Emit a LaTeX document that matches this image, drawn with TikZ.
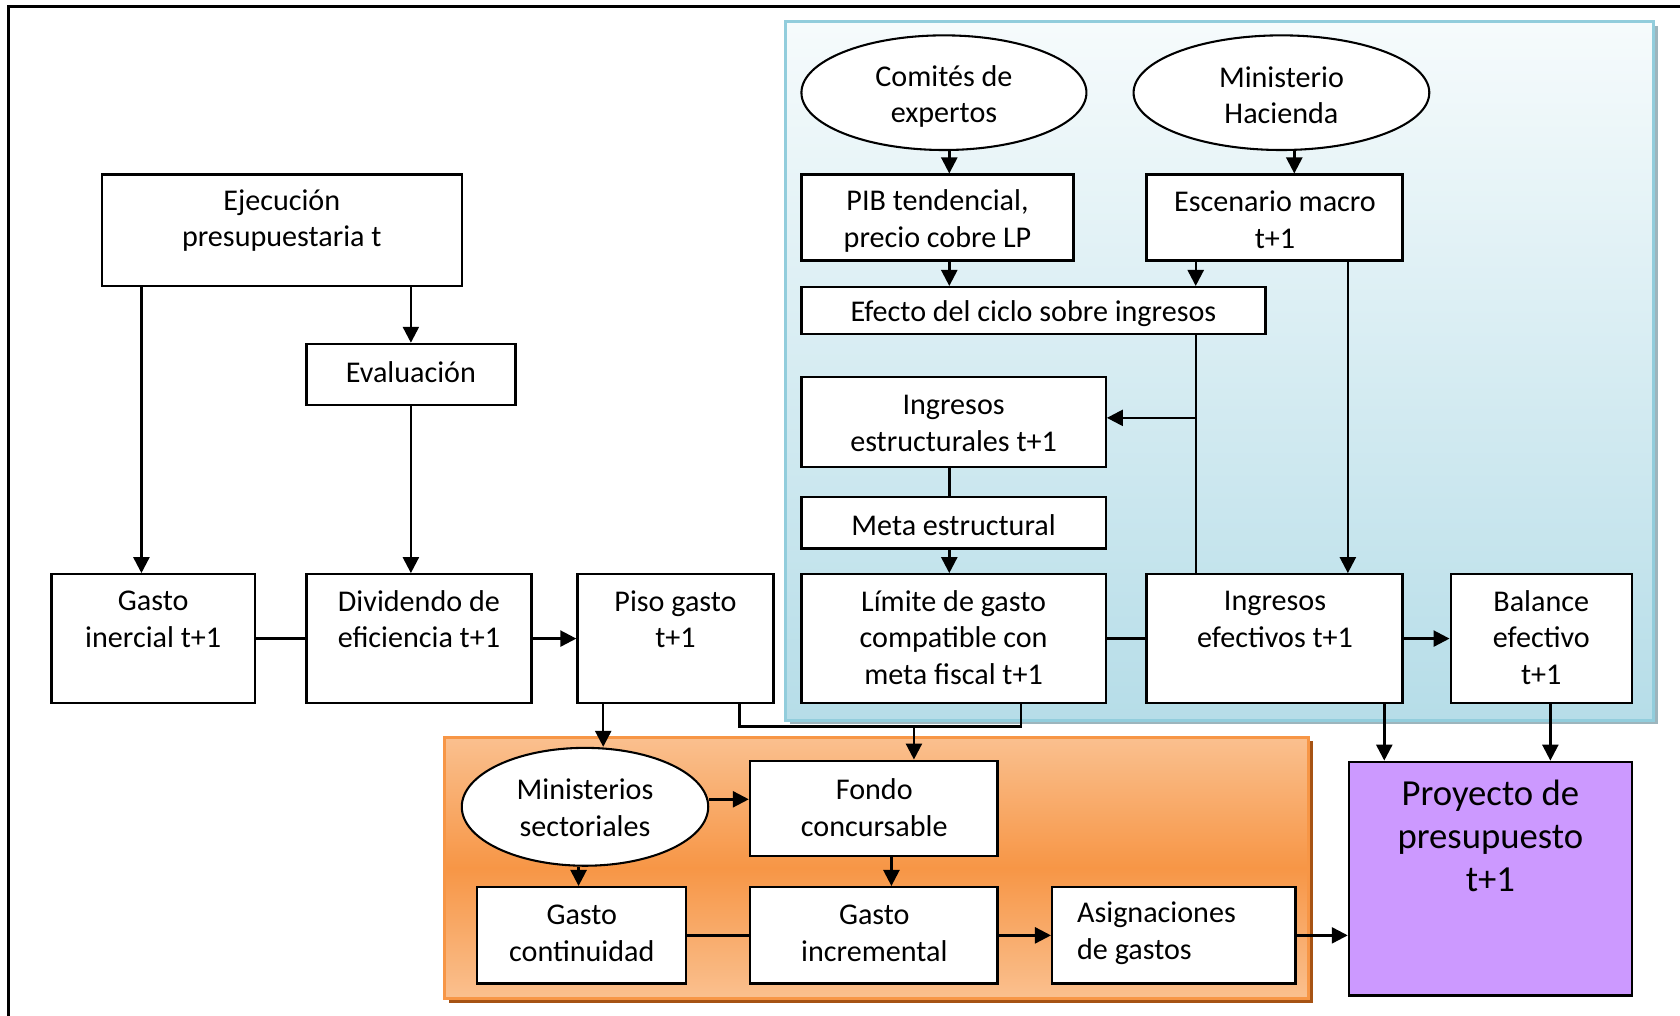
\documentclass[tikz,border=0pt]{standalone}
\usepackage{fontspec}
\setmainfont{Carlito}
\usetikzlibrary{arrows.meta,shapes.geometric}
\definecolor{blueT}{HTML}{F6FBFC}
\definecolor{blueB}{HTML}{B6DDE8}
\definecolor{blueBd}{HTML}{92CDDC}
\definecolor{blueSh}{HTML}{9DB5BD}
\definecolor{orL}{HTML}{FAC08F}
\definecolor{orM}{HTML}{F79646}
\definecolor{orSh}{HTML}{A65314}
\definecolor{purp}{HTML}{CC99FF}
\begin{document}
\begin{tikzpicture}[x=0.02cm,y=-0.02cm,
  sz/.style 2 args={minimum width=#1*0.02cm,minimum height=#2*0.02cm},
  box/.style={draw=black,line width=1.25pt,fill=white,rectangle,inner sep=0pt},
  oval/.style={draw=black,line width=1.1pt,fill=white,ellipse,inner sep=0pt},
  txt/.style={align=center,inner sep=0pt,font=\fontsize{16}{19.4}\selectfont},
  bigtxt/.style={align=center,inner sep=0pt,font=\fontsize{19.5}{22.7}\selectfont},
  ln/.style={line width=1.3pt},
  arr/.style={line width=1.3pt,-{Triangle[length=8.5pt,width=8.5pt]}},
]
\useasboundingbox (0,0) rectangle (1568,948);
% outer frame
\draw[line width=1.2pt,black] (8,948) -- (8,6) -- (1568,6);

% blue panel
\fill[blueSh] (737,24) rectangle (1547,676);
\shade[top color=blueT,bottom color=blueB] (733,20) rectangle (1543,672);
\draw[line width=1.6pt,blueBd] (733,20) rectangle (1543,672);

% orange panel
\fill[orSh] (419,692) rectangle (1225,936);
\shade[top color=orL,bottom color=orL,middle color=orM] (415,688) rectangle (1221,932);
\draw[line width=1.6pt,orM] (415,688) rectangle (1221,932);

% boxes
\node[box,sz={336}{104}] (ejec) at (263,215) {};
\node[box,sz={195}{57}] (eval) at (383.5,349.5) {};
\node[box,sz={190}{120}] (ginerc) at (143,596) {};
\node[box,sz={210}{120}] (divid) at (391,596) {};
\node[box,sz={183}{120}] (piso) at (630.5,596) {};
\node[oval,sz={266}{107}] (comites) at (881,86.5) {};
\node[oval,sz={276}{107}] (minhac) at (1196,86.5) {};
\node[box,sz={254}{80}] (pib) at (875,203) {};
\node[box,sz={239}{80}] (escen) at (1189.5,203) {};
\node[box,sz={433}{44}] (efecto) at (964.5,290) {};
\node[box,sz={284}{84}] (ingest) at (890,394) {};
\node[box,sz={284}{48}] (meta) at (890,488) {};
\node[box,sz={284}{120}] (limite) at (890,596) {};
\node[box,sz={239}{120}] (ingef) at (1189.5,596) {};
\node[box,sz={169}{120}] (balance) at (1438.5,596) {};
\node[oval,sz={230}{110}] (minsec) at (546,753) {};
\node[box,sz={231}{89}] (fondo) at (815.5,754.5) {};
\node[box,sz={195}{90}] (gcont) at (542.5,873) {};
\node[box,sz={231}{90}] (ginc) at (815.5,873) {};
\node[box,sz={227}{90}] (asig) at (1095.5,873) {};
\node[box,fill=purp,sz={264}{218}] (proy) at (1391,820) {};

% texts
\node[txt] (ejec-t) at (263,206) {Ejecución\\presupuestaria t};
\node[txt] (eval-t) at (383.5,347) {Evaluación};
\node[txt] (ginerc-t) at (143,578) {Gasto\\inercial t+1};
\node[txt] (divid-t) at (391,578) {Dividendo de\\eficiencia t+1};
\node[txt] (piso-t) at (630.5,578) {Piso gasto\\t+1};
\node[txt] (comites-t) at (881,90) {Comités de\\expertos};
\node[txt] (minhac-t) at (1196,89) {Ministerio\\Hacienda};
\node[txt] (pib-t) at (875,206) {PIB tendencial,\\precio cobre LP};
\node[txt] (escen-t) at (1190,205) {Escenario macro\\t+1};
\node[txt] (efecto-t) at (964.5,293) {Efecto del ciclo sobre ingresos};
\node[txt] (ingest-t) at (890,395) {Ingresos\\estructurales t+1};
\node[txt] (meta-t) at (890,490) {Meta estructural};
\node[txt] (limite-t) at (890,595) {Límite de gasto\\compatible con\\meta fiscal t+1};
\node[txt] (ingef-t) at (1190,578) {Ingresos\\efectivos t+1};
\node[txt] (balance-t) at (1438.5,595) {Balance\\efectivo\\t+1};
\node[txt] (minsec-t) at (546,754) {Ministerios\\sectoriales};
\node[txt] (fondo-t) at (816,754) {Fondo\\concursable};
\node[txt] (gcont-t) at (543,871) {Gasto\\continuidad};
\node[txt] (ginc-t) at (816,871) {Gasto\\incremental};
\node[txt,align=left,anchor=west] (asig-t) at (1005,871) {Asignaciones\\de gastos};
\node[bigtxt] (proy-t) at (1391,780) {Proyecto de\\presupuesto\\t+1};

% coordinates for junctions
\coordinate (jp) at (690,678);
\coordinate (jl) at (953,678);
\coordinate (jf) at (853,678);
\coordinate (je) at (1116,390);

% connectors
\draw[arr] (ejec.south -| 132,0) -- (ginerc.north -| 132,0);
\draw[arr] (ejec.south -| eval.north) -- (eval.north);
\draw[arr] (eval.south) -- (divid.north -| eval.south);
\draw[ln] (ginerc.east) -- (divid.west);
\draw[arr] (divid.east) -- (piso.west);
\draw[arr] (piso.south -| 563,0) -- (minsec.north -| 563,0);
\draw[ln] (piso.south -| jp) -- (jp) -- (jl) -- (limite.south -| jl);
\draw[arr] (jf) -- (fondo.north -| jf);
\draw[arr] (comites.south -| 886,0) -- (pib.north -| 886,0);
\draw[arr] (minhac.south -| 1208,0) -- (escen.north -| 1208,0);
\draw[arr] (pib.south -| 886,0) -- (efecto.north -| 886,0);
\draw[arr] (escen.south -| 1116,0) -- (efecto.north -| 1116,0);
\draw[arr] (escen.south -| 1258,0) -- (ingef.north -| 1258,0);
\draw[ln] (efecto.south -| je) -- (ingef.north -| je);
\draw[arr] (je) -- (ingest.east |- je);
\draw[ln] (ingest.south -| 886,0) -- (meta.north -| 886,0);
\draw[arr] (meta.south -| 886,0) -- (limite.north -| 886,0);
\draw[ln] (limite.east) -- (ingef.west);
\draw[arr] (ingef.east) -- (balance.west);
\draw[arr] (ingef.south -| 1292,0) -- (proy.north -| 1292,0);
\draw[arr] (balance.south -| 1447,0) -- (proy.north -| 1447,0);
\draw[arr] (minsec.east |- 0,746) -- (fondo.west |- 0,746);
\draw[arr] (minsec.south -| 540,0) -- (gcont.north -| 540,0);
\draw[arr] (fondo.south -| 832,0) -- (ginc.north -| 832,0);
\draw[ln] (gcont.east) -- (ginc.west);
\draw[arr] (ginc.east) -- (asig.west);
\draw[arr] (asig.east) -- (proy.west |- asig.east);
\end{tikzpicture}
\end{document}
